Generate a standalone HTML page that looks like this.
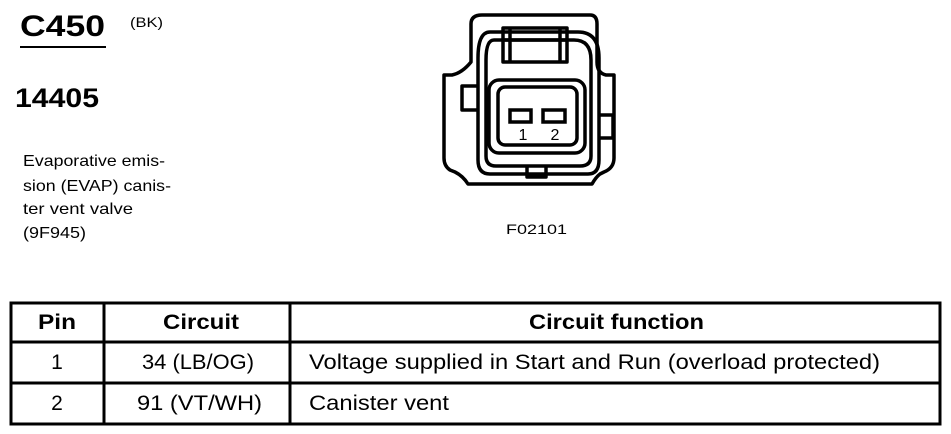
<!DOCTYPE html>
<html><head><style>
html,body{margin:0;padding:0;background:#fff;}
svg{display:block;font-family:"Liberation Sans",Arial,sans-serif;}
</style></head><body>
<svg width="951" height="434" viewBox="0 0 951 434" xmlns="http://www.w3.org/2000/svg">
<text x="20" y="36" font-size="30" font-weight="bold" textLength="85" lengthAdjust="spacingAndGlyphs">C450</text>
<line x1="20" y1="47" x2="106" y2="47" stroke="#000" stroke-width="2"/>
<text x="130" y="27" font-size="14" textLength="33" lengthAdjust="spacingAndGlyphs">(BK)</text>
<text x="15" y="107" font-size="27" font-weight="bold" textLength="84" lengthAdjust="spacingAndGlyphs">14405</text>
<g font-size="16">
<text x="23" y="166" textLength="142" lengthAdjust="spacingAndGlyphs">Evaporative emis-</text>
<text x="23" y="191" textLength="148" lengthAdjust="spacingAndGlyphs">sion (EVAP) canis-</text>
<text x="23" y="214" textLength="110" lengthAdjust="spacingAndGlyphs">ter vent valve</text>
<text x="23" y="238" textLength="63" lengthAdjust="spacingAndGlyphs">(9F945)</text>
</g>

<g fill="none" stroke="#000" stroke-width="3.5" stroke-linejoin="round">
<path d="M482 15 H590 Q597 15 597 24 V62 Q597 73 606 75 H614 V158 Q614 168 604 172 L600 174 Q596 177 592 184 H468 Q463 176 455 172 L450 170 Q444 166 444 158 V75 H452 Q462 73 471 62 V24 Q471 15 482 15 Z"/>
<path d="M490 32 H578 Q599 32 599 58 V160 Q599 174 588 174 H490 Q478 174 478 160 V58 Q478 32 490 32 Z"/>
<path d="M494 40 H574 Q591 40 591 60 V156 Q591 166 580 166 H496 Q486 166 486 156 V60 Q486 40 494 40 Z"/>
<rect x="503" y="28" width="64" height="34"/>
<line x1="510" y1="28" x2="510" y2="62"/>
<line x1="560" y1="28" x2="560" y2="62"/>
<line x1="503" y1="40" x2="567" y2="40"/>
<rect x="489" y="80" width="96" height="73" rx="10"/>
<rect x="498" y="87" width="79" height="58" rx="7"/>
<path d="M477 86 H462 V110 H477"/>
<path d="M598 115 H613 V138 H598"/>
<path d="M527 166 V177 H546 V166"/>
</g>
<rect x="510" y="110" width="21" height="12" fill="none" stroke="#000" stroke-width="3.5"/>
<rect x="543" y="110" width="22" height="12" fill="none" stroke="#000" stroke-width="3.5"/>
<text x="523" y="140" font-size="16" text-anchor="middle">1</text>
<text x="555" y="140" font-size="16" text-anchor="middle">2</text>
<text x="506" y="234" font-size="14" textLength="61" lengthAdjust="spacingAndGlyphs">F02101</text>

<g stroke="#000" stroke-width="3" fill="none">
<rect x="11" y="303" width="929" height="121"/>
<line x1="11" y1="342" x2="940" y2="342"/>
<line x1="11" y1="383" x2="940" y2="383"/>
<line x1="104" y1="303" x2="104" y2="424"/>
<line x1="290" y1="303" x2="290" y2="424"/>
</g>
<g font-size="21">
<text x="38" y="329" font-weight="bold" textLength="38" lengthAdjust="spacingAndGlyphs">Pin</text>
<text x="163" y="329" font-weight="bold" textLength="76" lengthAdjust="spacingAndGlyphs">Circuit</text>
<text x="529" y="329" font-weight="bold" textLength="175" lengthAdjust="spacingAndGlyphs">Circuit function</text>
<text x="57" y="369" text-anchor="middle">1</text>
<text x="142" y="369" textLength="112" lengthAdjust="spacingAndGlyphs">34 (LB/OG)</text>
<text x="309" y="369" textLength="571" lengthAdjust="spacingAndGlyphs">Voltage supplied in Start and Run (overload protected)</text>
<text x="57" y="410" text-anchor="middle">2</text>
<text x="137" y="410" textLength="125" lengthAdjust="spacingAndGlyphs">91 (VT/WH)</text>
<text x="309" y="410" textLength="140" lengthAdjust="spacingAndGlyphs">Canister vent</text>
</g>
</svg>
</body></html>
